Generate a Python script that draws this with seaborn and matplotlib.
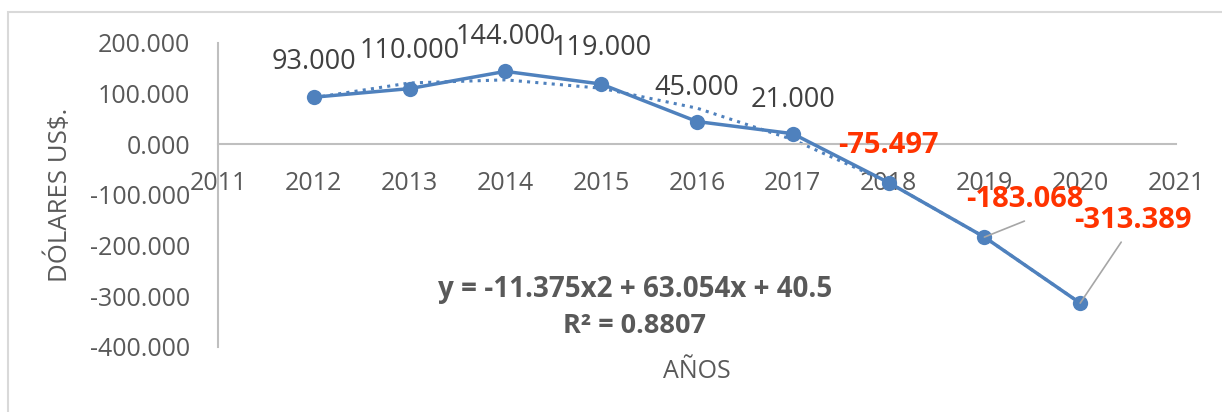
import numpy as np
import pandas as pd
import matplotlib
matplotlib.use('Agg')
import matplotlib.pyplot as plt
import seaborn as sns
from matplotlib.patches import Rectangle

years = [2012, 2013, 2014, 2015, 2016, 2017, 2018, 2019, 2020]
values = [93.0, 110.0, 144.0, 119.0, 45.0, 21.0, -75.497, -183.068, -313.389]
labels = ['93.000', '110.000', '144.000', '119.000', '45.000', '21.000',
          '-75.497', '-183.068', '-313.389']
is_forecast = [False] * 6 + [True] * 3
trend_coef = [-11.375, 63.054, 40.5]  # polynomial trend, x = 1..9
y_ticks = [200, 100, 0, -100, -200, -300, -400]
y_tick_labels = ['200.000', '100.000', '0.000', '-100.000', '-200.000', '-300.000', '-400.000']
x_ticks = list(range(2011, 2022))

W, H = 1222, 412
BLUE = '#4F81BD'
GREY = '#595959'
RED = '#FF3300'

sns.set_theme(style='white')
plt.rcParams['font.family'] = ['Open Sans', 'DejaVu Sans']

fig = plt.figure(figsize=(W / 100, H / 100), dpi=100)
ax = fig.add_axes([218 / W, 1 - 347 / H, (1176 - 218) / W, (347 - 43) / H])

df = pd.DataFrame({'year': years, 'value': values})

# trend line (dotted)
idx = np.arange(1, len(years) + 1)
trend = np.polyval(trend_coef, idx)
ax.plot(years, trend, linestyle=(0, (1, 1.7)), color=BLUE, linewidth=2.2, zorder=2)

sns.lineplot(data=df, x='year', y='value', ax=ax, color=BLUE, linewidth=2.5,
             marker='o', markersize=11, markeredgewidth=0, zorder=3)

ax.set_xlim(2011, 2021)
ax.set_ylim(-400, 200)
ax.set_xticks(x_ticks)
ax.set_xticklabels([str(t) for t in x_ticks])
ax.set_yticks(y_ticks)
ax.set_yticklabels(y_tick_labels)
ax.tick_params(axis='both', length=0, labelsize=18, labelcolor=GREY)
ax.tick_params(axis='x', pad=19)
ax.tick_params(axis='y', pad=20)

for s in ['top', 'right']:
    ax.spines[s].set_visible(False)
ax.spines['bottom'].set_position(('data', 0))
ax.spines['bottom'].set_color('#BFBFBF')
ax.spines['left'].set_color('#BFBFBF')
ax.spines['bottom'].set_linewidth(1.5)
ax.spines['left'].set_linewidth(1.5)
ax.grid(False)

ax.set_xlabel('')
ax.set_ylabel('')

# data labels: offsets in pixels (dx, dy up)
offsets = [(0, 35), (0, 38), (0, 34), (0, 36), (0, 34), (0, 34), (0, 37), (40, 38), (53, 83)]
leaders = [None] * 7 + [(40, 16), (41, 61)]
for x, y, lab, fc, (dx, dy), ld in zip(years, values, labels, is_forecast, offsets, leaders):
    ax.annotate(lab, (x, y), xytext=(dx * 0.72, dy * 0.72), textcoords='offset points',
                ha='center', va='center', fontsize=21 if fc else 19.5,
                color=RED if fc else '#404040',
                fontweight='bold' if fc else 'normal', zorder=5)
    if ld is not None:
        ax.annotate('', (x, y), xytext=(ld[0] * 0.72, ld[1] * 0.72), textcoords='offset points',
                    arrowprops=dict(arrowstyle='-', color='#A6A6A6', lw=1.2,
                                    shrinkA=0, shrinkB=0))

fig.text(635 / W, 1 - 289 / H, 'y = -11.375x2 + 63.054x + 40.5', ha='center', va='center',
         fontsize=20, fontweight='bold', color=GREY)
fig.text(635 / W, 1 - 326 / H, 'R² = 0.8807', ha='center', va='center',
         fontsize=19.5, fontweight='bold', color=GREY)
fig.text(697 / W, 1 - 372 / H, 'AÑOS', ha='center', va='center', fontsize=18, color=GREY)
fig.text(60 / W, 1 - 195 / H, 'DÓLARES US$.', ha='center', va='center', rotation=90,
         fontsize=18.5, color=GREY)

fig.patches.append(Rectangle((8 / W, -0.02), 1.0, 1 - 12 / H + 0.02, transform=fig.transFigure,
                             fill=False, edgecolor='#D9D9D9', linewidth=1.5))

fig.savefig('out.png', dpi=100, facecolor='white')
